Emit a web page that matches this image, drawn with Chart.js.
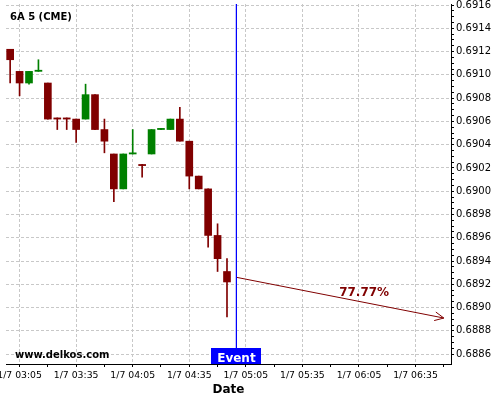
<!DOCTYPE html>
<html>
<head>
<meta charset="utf-8">
<title>6A 5 (CME)</title>
<script src="https://cdn.jsdelivr.net/npm/chart.js@4.4.0/dist/chart.umd.min.js"></script>
<style>
  html, body { margin: 0; padding: 0; background: #fff; }
  #wrap { width: 500px; height: 400px; }
</style>
</head>
<body>
<div id="wrap"><canvas id="chart" width="500" height="400"></canvas></div>
<script>
// 5 minute candles, 1/7
const times  = ['03:00', '03:05', '03:10', '03:15', '03:20', '03:25', '03:30', '03:35',
                '03:40', '03:45', '03:50', '03:55', '04:00', '04:05', '04:10', '04:15',
                '04:20', '04:25', '04:30', '04:35', '04:40', '04:45', '04:50', '04:55'];
const opens  = [0.69122, 0.69103, 0.69093, 0.69103, 0.69093, 0.69063, 0.69063, 0.69062,
                0.69062, 0.69083, 0.69053, 0.69032, 0.69002, 0.69032, 0.69023, 0.69032,
                0.69053, 0.69053, 0.69062, 0.69043, 0.69013, 0.69002, 0.68962, 0.68931];
const highs  = [0.69122, 0.69103, 0.69103, 0.69113, 0.69093, 0.69063, 0.69063, 0.69062,
                0.69092, 0.69083, 0.69062, 0.69032, 0.69032, 0.69053, 0.69023, 0.69053,
                0.69054, 0.69062, 0.69072, 0.69043, 0.69013, 0.69002, 0.68972, 0.68942];
const lows   = [0.69093, 0.69082, 0.69092, 0.69103, 0.69062, 0.69053, 0.69053, 0.69042,
                0.69062, 0.69053, 0.69033, 0.68991, 0.69002, 0.69032, 0.69012, 0.69032,
                0.69053, 0.69053, 0.69043, 0.69002, 0.69002, 0.68952, 0.68931, 0.68892];
const closes = [0.69113, 0.69093, 0.69103, 0.69104, 0.69062, 0.69062, 0.69062, 0.69053,
                0.69083, 0.69053, 0.69043, 0.69002, 0.69032, 0.69033, 0.69022, 0.69053,
                0.69054, 0.69062, 0.69043, 0.69013, 0.69002, 0.68962, 0.68942, 0.68922];

const dayLabel = '1/7';
const symbol = '6A 5 (CME)';
const siteLabel = 'www.delkos.com';
const eventTime = '05:00';
const eventLabel = 'Event';
const forecastTimes = ['05:00', '06:50'];
const forecastPrices = [0.68926, 0.68891];
const forecastLabel = '77.77%';

// axes (x in minutes of the day)
const xMin = 177.8, xMax = 413.8;
const xFirstLabel = '03:05';
const yMin = 0.688515, yMax = 0.691609;
const yFirstTick = 0.6886, yLastTick = 0.6916;

const FONT = '"DejaVu Sans", sans-serif';
const UP = '#008000', DOWN = '#800000';
const GRID = '#c8c8c8';
const ARROW = '#800000';

function toMin(t) {
  const [h, m] = t.split(':').map(Number);
  return h * 60 + m;
}
function fmtTime(v) {
  const h = Math.floor(v / 60), m = Math.round(v % 60);
  return String(h).padStart(2, '0') + ':' + String(m).padStart(2, '0');
}

const x0 = toMin(xFirstLabel);
const xTicks = [];
for (let v = x0; v <= xMax; v += 15) xTicks.push(v);
const isMajorX = v => (v - x0) % 30 === 0;

const yTicks = [];
for (let k = 0; yFirstTick + k * 0.00005 <= yLastTick + 1e-9; k++) {
  yTicks.push(+(yFirstTick + k * 0.00005).toFixed(5));
}

const bodies = times.map((t, i) => ({ x: toMin(t), y: [opens[i], closes[i]] }));
const wicks = times.map((t, i) => ({ x: toMin(t), y: [lows[i], highs[i]] }));
const colors = times.map((t, i) => closes[i] >= opens[i] ? UP : DOWN);

const overlay = {
  id: 'overlay',
  afterDatasetsDraw(chart) {
    const { ctx, chartArea, scales: { x } } = chart;
    ctx.save();

    // arrow head on the forecast line
    const pts = chart.getDatasetMeta(3).data;
    const a = pts[0], b = pts[pts.length - 1];
    const ang = Math.atan2(b.y - a.y, b.x - a.x);
    ctx.strokeStyle = ARROW;
    ctx.lineWidth = 1;
    ctx.beginPath();
    [-1, 1].forEach(s => {
      ctx.moveTo(b.x, b.y);
      ctx.lineTo(b.x - 10 * Math.cos(ang + s * 0.45), b.y - 10 * Math.sin(ang + s * 0.45));
    });
    ctx.stroke();

    // probability
    ctx.fillStyle = ARROW;
    ctx.font = 'bold 12px ' + FONT;
    ctx.textAlign = 'center';
    ctx.textBaseline = 'alphabetic';
    ctx.fillText(forecastLabel, (a.x + b.x) / 2 + 24, (a.y + b.y) / 2 - 2);

    // event tag
    const ex = x.getPixelForValue(toMin(eventTime));
    ctx.fillStyle = '#0000ff';
    ctx.fillRect(Math.round(ex) - 25, chartArea.bottom - 16, 50, 16);
    ctx.fillStyle = '#fff';
    ctx.fillText(eventLabel, ex, chartArea.bottom - 2.5);

    // symbol + site
    ctx.fillStyle = '#000';
    ctx.textAlign = 'left';
    ctx.font = 'bold 10px ' + FONT;
    ctx.fillText(symbol, 10, 20);
    ctx.fillText(siteLabel, 15, 357.5);
    ctx.restore();
  }
};

new Chart(document.getElementById('chart'), {
  type: 'bar',
  data: {
    datasets: [
      { data: bodies, backgroundColor: colors, barThickness: 7, minBarLength: 1, grouped: false, borderWidth: 0 },
      { data: wicks, backgroundColor: colors, barThickness: 1, minBarLength: 1, grouped: false, borderWidth: 0 },
      { type: 'line', data: [{ x: toMin(eventTime), y: yMax }, { x: toMin(eventTime), y: yMin }],
        borderColor: '#0000ff', borderWidth: 1, pointRadius: 0 },
      { type: 'line', data: forecastTimes.map((t, i) => ({ x: toMin(t), y: forecastPrices[i] })),
        borderColor: ARROW, borderWidth: 1, pointRadius: 0 }
    ]
  },
  options: {
    responsive: false,
    animation: false,
    devicePixelRatio: 1,
    events: [],
    layout: { padding: { left: 6, top: 4, right: 0, bottom: 0 } },
    plugins: { legend: { display: false }, tooltip: { enabled: false } },
    scales: {
      x: {
        type: 'linear', min: xMin, max: xMax, offset: false,
        afterBuildTicks: s => { s.ticks = xTicks.map(v => ({ value: v })); },
        afterFit: s => { s.height = 36; s.paddingLeft = 0; s.paddingRight = 0; },
        grid: {
          offset: false,
          color: c => (c.tick && isMajorX(c.tick.value)) ? GRID : 'rgba(0,0,0,0)',
          tickColor: '#000', tickLength: 3, lineWidth: 1
        },
        border: { color: '#000', width: 1, dash: [3, 2] },
        ticks: {
          autoSkip: false, maxRotation: 0, minRotation: 0, padding: 3, color: '#000',
          font: { family: FONT, size: 9.3 },
          callback: v => isMajorX(v) ? dayLabel + ' ' + fmtTime(v) : ''
        },
        title: { display: true, text: 'Date', color: '#000',
                 font: { family: FONT, size: 12, weight: 'bold' }, padding: { top: 0, bottom: 3 } }
      },
      y: {
        position: 'right', min: yMin, max: yMax,
        afterBuildTicks: s => { s.ticks = yTicks.map(v => ({ value: v })); },
        afterFit: s => { s.width = 49; s.paddingTop = 0; s.paddingBottom = 0; },
        grid: {
          color: c => (c.tick && yTicks.indexOf(c.tick.value) % 4 === 0) ? GRID : 'rgba(0,0,0,0)',
          tickColor: '#000', tickLength: 3, lineWidth: 1
        },
        border: { color: '#000', width: 1, dash: [3, 2] },
        ticks: {
          autoSkip: false, padding: 2, color: '#000', font: { family: FONT, size: 10 },
          callback: v => yTicks.indexOf(v) % 4 === 0 ? v.toFixed(4) : ''
        }
      }
    }
  },
  plugins: [overlay]
});
</script>
</body>
</html>
